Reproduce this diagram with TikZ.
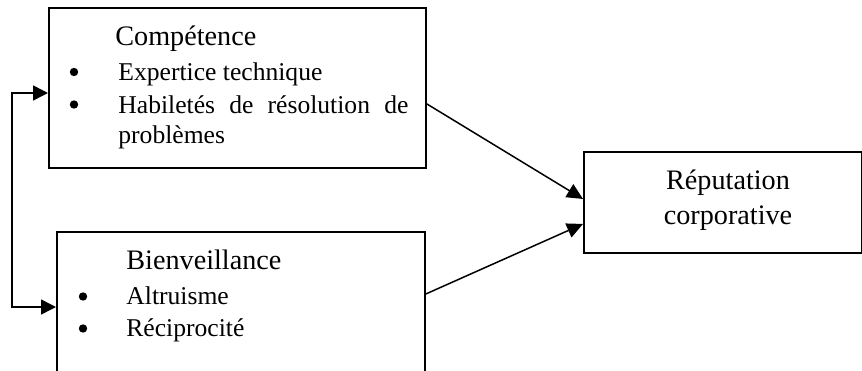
\documentclass[tikz,border=0pt]{standalone}
\usepackage{fontspec}
\setmainfont{Liberation Serif}
\usetikzlibrary{arrows.meta}
\begin{document}
\begin{tikzpicture}[x=0.5pt,y=-0.5pt,
  box/.style={draw, line width=0.95pt, inner sep=0pt, anchor=north west},
  head/.style={anchor=base west, inner sep=0pt, font=\fontsize{14.1pt}{17pt}\selectfont},
  item/.style={anchor=base west, inner sep=0pt, font=\fontsize{12.8pt}{16.5pt}\selectfont},
  bul/.style={circle, fill, draw=none, inner sep=0pt, minimum size=4.2pt},
  conn/.style={line width=0.75pt, -{Triangle[length=8pt,width=7.5pt]}}]
\clip (0,0) rectangle (862,370);
\node[box, minimum width=188.5pt, minimum height=80pt] (c) at (48,7) {};
\node[box, minimum width=184pt, minimum height=80pt] (b) at (56,231) {};
\node[box, minimum width=139pt, minimum height=50.5pt] (r) at (583,151) {};
\node[head] (ct) at (115,45) {Compétence};
\node[bul] (cb1) at (74,72) {};
\node[item] (c1) at (118,80) {Expertice technique};
\node[bul] (cb2) at (74,104.5) {};
\node[item] (c2) at (118,113) {\makebox[145pt][s]{Habiletés de résolution de}};
\node[item] (c3) at (118,143) {problèmes};
\node[head] (bt) at (126,269) {Bienveillance};
\node[bul] (bb1) at (83,296.5) {};
\node[item] (b1) at (126,304) {Altruisme};
\node[bul] (bb2) at (83,328.5) {};
\node[item] (b2) at (126,336) {Réciprocité};
\node[head, anchor=base] (r1) at (728,189) {Réputation};
\node[head, anchor=base] (r2) at (728,224) {corporative};
\coordinate (j1) at (12,93);
\coordinate (j2) at (12,307);
\draw[line width=0.75pt, {Triangle[length=7.5pt,width=7.5pt]}-{Triangle[length=7.5pt,width=7.5pt]}] (c.west |- j1) -- (j1) -- (j2) -- (b.west |- j2);
\draw[conn] ([yshift=-8pt]c.east) -- ([yshift=1.75pt]r.west);
\draw[conn] ([yshift=9pt]b.east) -- ([yshift=-10.75pt]r.west);
\end{tikzpicture}
\end{document}
